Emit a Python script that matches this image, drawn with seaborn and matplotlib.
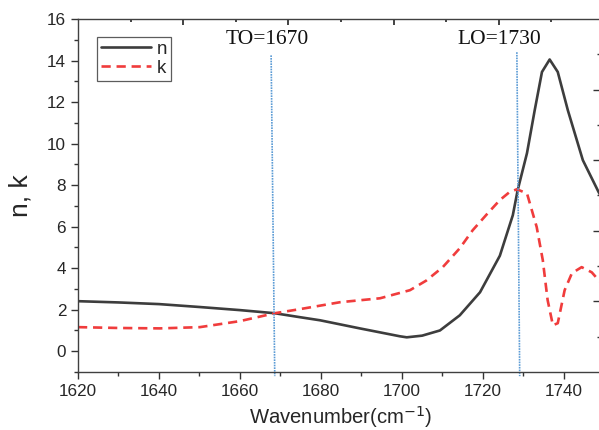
import numpy as np
import pandas as pd
import matplotlib
matplotlib.use("Agg")
import matplotlib.pyplot as plt
import seaborn as sns

# values
n_wavenumber = [1620, 1630, 1640, 1650, 1660, 1668.6, 1674.8, 1679.8, 1689.6, 1699.5,
                1701.2, 1705, 1709.4, 1714.3, 1719.3, 1724.2, 1727.4, 1728.6, 1730.9,
                1732.8, 1734.6, 1736.5, 1738.5, 1741.0, 1744.7, 1748.6, 1750]
n_values = [2.41, 2.35, 2.27, 2.13, 1.98, 1.83, 1.64, 1.49, 1.10, 0.72,
            0.67, 0.75, 1.00, 1.73, 2.84, 4.60, 6.55, 7.76, 9.54,
            11.6, 13.45, 14.05, 13.45, 11.6, 9.2, 7.66, 7.2]

k_wavenumber = [1620, 1630, 1640.2, 1650.1, 1660, 1668.6, 1674.6, 1684.7, 1694.6, 1702,
                1706, 1710.1, 1714.3, 1717.5, 1721, 1724.2, 1726.5, 1728.4, 1730.9,
                1733.3, 1734.8, 1736.0, 1737.3, 1738.5, 1740.2, 1742.0, 1744.4,
                1746.9, 1748.6, 1750]
k_values = [1.16, 1.12, 1.10, 1.16, 1.45, 1.83, 2.02, 2.36, 2.55, 2.94,
            3.4, 4.05, 4.96, 5.83, 6.6, 7.28, 7.65, 7.80, 7.60,
            5.98, 4.39, 2.46, 1.25, 1.35, 2.94, 3.76, 4.05,
            3.80, 3.42, 3.2]

to_line_x = [1667.7, 1668.6]
to_line_y = [14.25, -1.2]
lo_line_x = [1728.4, 1729.1]
lo_line_y = [14.4, -1.2]

to_label = "TO=1670"
lo_label = "LO=1730"

df_n = pd.DataFrame({"wavenumber": n_wavenumber, "value": n_values})
df_k = pd.DataFrame({"wavenumber": k_wavenumber, "value": k_values})

sns.set_style("ticks")
plt.rcParams["font.family"] = ["Liberation Sans", "DejaVu Sans"]

fig = plt.figure(figsize=(5.99, 4.30), dpi=100)
ax = fig.add_axes([0.1302, 0.1349, 0.878, 0.8209])

sns.lineplot(data=df_n, x="wavenumber", y="value", ax=ax, color="#3d3d3d",
             linewidth=1.9, label="n", sort=False)
sns.lineplot(data=df_k, x="wavenumber", y="value", ax=ax, color="#f03c3c",
             linewidth=1.9, linestyle=(0, (3.5, 2.2)), label="k", sort=False)

# TO / LO markers
ax.plot(to_line_x, to_line_y, color="#5b9bd5", linestyle=(0, (1, 0.6)), linewidth=1.2, clip_on=False)
ax.plot(lo_line_x, lo_line_y, color="#5b9bd5", linestyle=(0, (1, 0.6)), linewidth=1.2, clip_on=False)
ax.text(1666.7, 15.0, to_label, family=["Liberation Serif"], fontsize=15.5,
        ha="center", va="center", color="#111111")
ax.text(1724.0, 15.0, lo_label, family=["Liberation Serif"], fontsize=15.5,
        ha="center", va="center", color="#111111")

ax.set_xlim(1620, 1749.9)
ax.set_ylim(-1, 16)
ax.set_xticks([1620, 1640, 1660, 1680, 1700, 1720, 1740])
ax.set_xticks(np.arange(1630, 1750, 20), minor=True)
ax.set_yticks(np.arange(0, 17, 2))
ax.set_yticks(np.arange(-1, 16, 2), minor=True)
ax.tick_params(axis="both", which="major", direction="out", length=5, width=1,
               labelsize=12.3, color="#333333")
ax.tick_params(axis="both", which="minor", direction="out", length=3, width=1, color="#333333")
ax.set_xlabel("Wavenumber(cm$^{-1}$)", fontsize=14.6, va="center")
ax.xaxis.set_label_coords(0.5, -0.127)
ax.set_ylabel("n, k", fontsize=19, va="center")
ax.yaxis.set_label_coords(-0.11, 0.5)
for side in ["left", "bottom"]:
    ax.spines[side].set_color("#404040")
    ax.spines[side].set_linewidth(1.0)
ax.spines["top"].set_visible(False)
ax.spines["right"].set_visible(False)

leg = ax.legend(loc="upper left", bbox_to_anchor=(0.036, 0.949), borderaxespad=0,
                fontsize=13.5, handlelength=2.7, handletextpad=0.3, frameon=True,
                fancybox=False, borderpad=0.2, labelspacing=0.1)
leg.get_frame().set_edgecolor("#333333")
leg.get_frame().set_linewidth(0.9)

# overlay frame carrying the top and right tick marks
ax2 = fig.add_axes(ax.get_position())
ax2.patch.set_visible(False)
ax2.set_xlim(0, 1)
ax2.set_ylim(0, 1)
ax2.spines["left"].set_visible(False)
ax2.spines["bottom"].set_visible(False)
for side in ["top", "right"]:
    ax2.spines[side].set_color("#404040")
    ax2.spines[side].set_linewidth(1.0)
ax2.xaxis.tick_top()
ax2.yaxis.tick_right()
ax2.set_xticks([0.2, 0.4, 0.6, 0.8])
ax2.set_xticks([0.1, 0.3, 0.5, 0.7, 0.9], minor=True)
ax2.set_yticks([0.2, 0.4, 0.6, 0.8])
ax2.set_yticks([0.1, 0.3, 0.5, 0.7, 0.9], minor=True)
ax2.tick_params(axis="x", which="major", direction="in", length=4.5, width=1.2, color="#222222")
ax2.tick_params(axis="x", which="minor", direction="in", length=2.5, width=1.2, color="#222222")
ax2.tick_params(axis="y", which="major", direction="in", length=8, width=1.0, color="#333333")
ax2.tick_params(axis="y", which="minor", direction="in", length=5, width=1.0, color="#333333")
ax2.tick_params(labeltop=False, labelright=False, labelbottom=False, labelleft=False)

fig.savefig("out.png", dpi=100)
